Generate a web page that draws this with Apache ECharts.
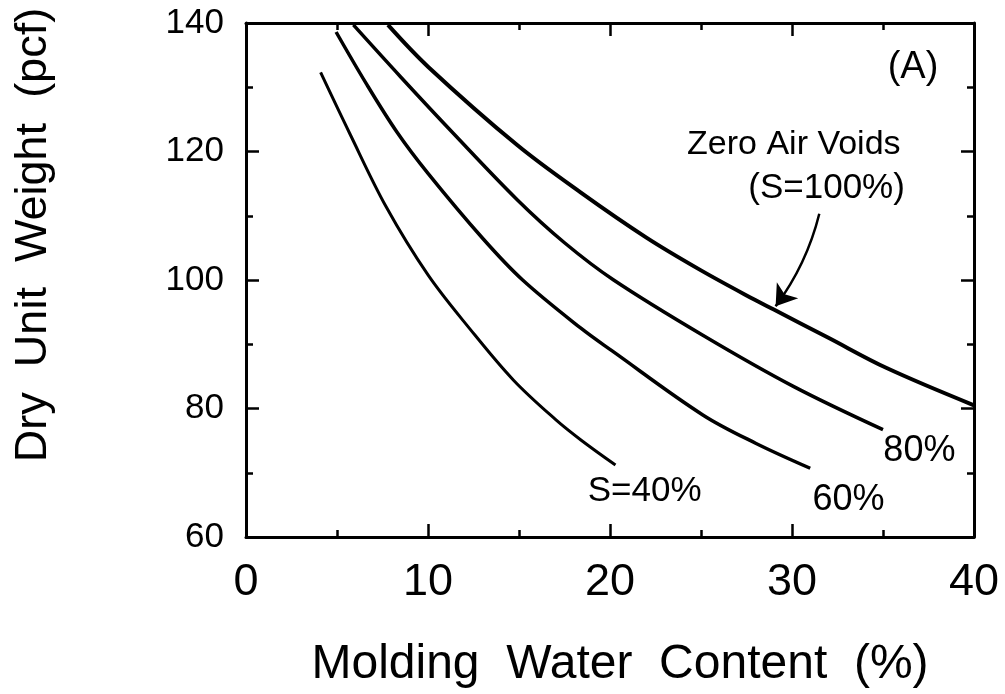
<!DOCTYPE html>
<html>
<head>
<meta charset="utf-8">
<script src="https://cdn.jsdelivr.net/npm/echarts@6/dist/echarts.min.js"></script>
<style>
  html, body { margin: 0; padding: 0; background: #fff; }
  #chart { width: 1005px; height: 694px; }
</style>
</head>
<body>
<div id="chart"></div>
<script>
// --- molding water content (%) vs dry unit weight (pcf) ---
const s40W   = [4.1, 5.7, 7.7, 10.0, 12.3, 14.7, 17.0, 18.4, 20.3];
const s40Gd  = [132.3, 122.8, 111.4, 100.8, 92.4, 84.4, 78.3, 75.1, 71.2];

const s60W   = [4.95, 6.6, 8.3, 10.0, 13.0, 15.2, 18.4, 20.1, 25.1, 28.0, 31.0];
const s60Gd  = [138.6, 130.6, 123.0, 116.6, 106.5, 100.0, 92.5, 89.0, 79.0, 74.6, 70.7];

const s80W   = [5.9, 8.5, 11.4, 14.9, 17.5, 20.2, 25.1, 30.1, 35.0];
const s80Gd  = [139.7, 131.6, 122.8, 112.5, 105.8, 100.0, 91.4, 83.4, 76.7];

const zavW   = [7.8, 10.0, 14.9, 18.4, 22.0, 25.0, 27.9, 29.0, 32.0, 35.2, 40.0];
const zavGd  = [139.7, 133.2, 121.0, 113.6, 106.6, 101.5, 97.0, 95.4, 91.0, 86.3, 80.5];

const xTicks = [0, 10, 20, 30, 40];
const yTicks = [60, 80, 100, 120, 140];

// annotation texts placed in data units
const notes = [
  { text: '(A)',            at: [36.65, 133.0], size: 38 },
  { text: 'Zero Air Voids', at: [30.1, 121.0],  size: 34 },
  { text: '(S=100%)',       at: [31.9, 114.3],  size: 35 },
  { text: '80%',            at: [37.0, 73.4],   size: 36 },
  { text: '60%',            at: [33.1, 65.8],   size: 36 },
  { text: 'S=40%',          at: [21.9, 67.1],   size: 35 }
];
const arrowFrom = [31.5, 110.3];
const arrowTo   = [29.1, 95.9];

const pairs = (xs, ys) => xs.map((x, i) => [x, ys[i]]);
const FONT = "'Liberation Sans', Arial, Helvetica, sans-serif";

const axisBase = {
  type: 'value',
  axisLine: { show: true, onZero: false, lineStyle: { color: '#000', width: 3 } },
  axisTick: { show: true, inside: true, length: 13, lineStyle: { color: '#000', width: 2.5 } },
  minorTick: { show: true, splitNumber: 2, length: 7, lineStyle: { color: '#000', width: 2.5 } },
  splitLine: { show: false },
  minorSplitLine: { show: false }
};

const curve = (name, xs, ys, w) => ({
  name, type: 'line', data: pairs(xs, ys),
  smooth: 0.35, showSymbol: false, symbol: 'none',
  lineStyle: { color: '#000', width: w },
  z: 3
});

const chart = echarts.init(document.getElementById('chart'));
chart.setOption({
  backgroundColor: '#fff',
  animation: false,
  grid: { left: 246, right: 31, top: 23, bottom: 157, containLabel: false, outerBoundsMode: 'none' },
  xAxis: [
    {
      ...axisBase, position: 'bottom', min: 0, max: 40, interval: 10,
      axisLabel: {
        color: '#000', fontSize: 45, margin: 23,
        fontFamily: "'Liberation Sans Narrow', 'Arial Narrow', " + FONT,
        formatter: v => xTicks.includes(v) ? String(v) : ''
      },
      name: 'Molding  Water  Content  (%)', nameLocation: 'middle', nameGap: 104,
      nameTextStyle: { color: '#000', fontSize: 48, fontFamily: FONT, padding: [0, 0, 0, 20] }
    },
    { ...axisBase, position: 'top', min: 0, max: 40, interval: 10, axisLabel: { show: false } }
  ],
  yAxis: [
    {
      ...axisBase, position: 'left', min: 60, max: 140, interval: 20,
      axisLabel: {
        color: '#000', fontSize: 35, margin: 22, fontFamily: FONT,
        formatter: v => yTicks.includes(v) ? String(v) : ''
      },
      name: 'Dry  Unit  Weight  (pcf)', nameLocation: 'middle', nameRotate: 90, nameGap: 190,
      nameTextStyle: { color: '#000', fontSize: 45, fontFamily: FONT, padding: [0, 0, 0, 90] }
    },
    { ...axisBase, position: 'right', min: 60, max: 140, interval: 20, axisLabel: { show: false } }
  ],
  series: [
    curve('S=40%', s40W, s40Gd, 3),
    curve('S=60%', s60W, s60Gd, 3.5),
    curve('S=80%', s80W, s80Gd, 3.5),
    curve('Zero Air Voids', zavW, zavGd, 4),
    {
      type: 'scatter', xAxisIndex: 0, yAxisIndex: 0,
      symbolSize: 1, silent: true,
      itemStyle: { color: 'rgba(0,0,0,0)', opacity: 1 },
      data: notes.map(n => ({
        name: n.text, value: n.at,
        label: { fontSize: n.size }
      })),
      label: {
        show: true, position: 'inside', formatter: p => p.name, opacity: 1,
        color: '#000', fontFamily: FONT, align: 'center', verticalAlign: 'middle'
      }
    },
    {
      type: 'lines', coordinateSystem: 'cartesian2d', xAxisIndex: 0, yAxisIndex: 0,
      silent: true, symbol: ['none', 'arrow'], symbolSize: 20,
      lineStyle: { color: '#000', width: 2.5, curveness: 0.1, opacity: 1 },
      data: [{ coords: [arrowFrom, arrowTo] }]
    }
  ]
});
</script>
</body>
</html>
